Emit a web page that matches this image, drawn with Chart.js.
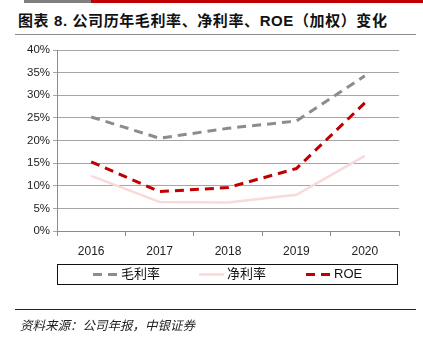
<!DOCTYPE html>
<html>
<head>
<meta charset="utf-8">
<script src="https://cdn.jsdelivr.net/npm/chart.js@4.4.1/dist/chart.umd.min.js"></script>
<style>
  html, body { margin: 0; padding: 0; background: #fff; }
  body { width: 423px; height: 339px; position: relative; overflow: hidden;
         font-family: "Liberation Sans", "Noto Sans CJK SC", sans-serif; }
  #barGray { position: absolute; left: 24px; top: 0; width: 67px; height: 3px; background: #7f7f7f; }
  #barRed  { position: absolute; left: 91px; top: 0; width: 332px; height: 3px; background: #c00000; }
  #title { position: absolute; left: 18px; top: 9px; font-size: 15px; font-weight: bold; letter-spacing: 0.6px;
           color: #111; white-space: nowrap; font-family: "Liberation Sans", "Noto Sans CJK SC", sans-serif; }
  #titleRule { position: absolute; left: 15px; top: 34px; width: 401px; height: 1px; background: #8c8c8c; }
  #footRule { position: absolute; left: 15px; top: 309px; width: 401px; height: 1px; background: #222; }
  #foot { position: absolute; left: 20px; top: 315px; font-size: 12.5px; font-style: italic; color: #222;
          white-space: nowrap; font-family: "Noto Sans CJK SC", sans-serif; }
  #wrap { position: absolute; left: 0; top: 0; width: 423px; height: 339px; }
</style>
</head>
<body>
<div id="barGray"></div><div id="barRed"></div>
<div id="title">图表 8. 公司历年毛利率、净利率、ROE（加权）变化</div>
<div id="titleRule"></div>
<div id="wrap"><canvas id="c" width="423" height="339"></canvas></div>
<div id="footRule"></div>
<div id="foot">资料来源：公司年报，中银证券</div>
<script>
// Years and rates (%)
const years = ['2016', '2017', '2018', '2019', '2020'];
const grossMargin = [25.2, 20.5, 22.7, 24.3, 34.3];
const netMargin = [12.2, 6.4, 6.3, 8.0, 16.6];
const roe = [15.3, 8.7, 9.6, 13.8, 28.3];
const yTicks = [0, 5, 10, 15, 20, 25, 30, 35, 40];

// Boxed legend drawn under the plot, one slot per series
const boxedLegend = {
  id: 'boxedLegend',
  afterDraw(chart) {
    const ctx = chart.ctx;
    const area = chart.chartArea;
    const top = 264, bottom = 284, left = area.left, right = 397;
    ctx.save();
    ctx.strokeStyle = '#111';
    ctx.lineWidth = 1;
    ctx.strokeRect(left + 0.5, top + 0.5, right - left, bottom - top);
    const starts = [93, 199, 306];
    const cy = (top + bottom) / 2 + 0.5;
    chart.data.datasets.forEach((ds, i) => {
      const x0 = starts[i];
      ctx.beginPath();
      ctx.strokeStyle = ds.borderColor;
      ctx.lineWidth = ds.borderWidth;
      ctx.lineCap = 'butt';
      ctx.setLineDash(ds.borderDash || []);
      ctx.moveTo(x0, cy);
      ctx.lineTo(x0 + 25, cy);
      ctx.stroke();
      ctx.setLineDash([]);
      ctx.fillStyle = '#111';
      ctx.font = '13px "Liberation Sans", "Noto Sans CJK SC", sans-serif';
      ctx.textBaseline = 'middle';
      ctx.textAlign = 'left';
      ctx.fillText(ds.label, x0 + 28, cy);
    });
    ctx.restore();
  }
};

new Chart(document.getElementById('c'), {
  type: 'line',
  data: {
    labels: years,
    datasets: [
      { label: '毛利率', data: grossMargin, borderColor: '#8c8c8c', borderWidth: 3,
        borderDash: [9, 6], pointRadius: 0, tension: 0, fill: false },
      { label: '净利率', data: netMargin, borderColor: '#f8dada', borderWidth: 2.5,
        pointRadius: 0, tension: 0, fill: false },
      { label: 'ROE', data: roe, borderColor: '#c00000', borderWidth: 3,
        borderDash: [9, 6], pointRadius: 0, tension: 0, fill: false }
    ]
  },
  options: {
    responsive: false,
    animation: false,
    devicePixelRatio: 1,
    layout: { padding: { top: 50, right: 24, bottom: 75, left: 0 } },
    plugins: { legend: { display: false }, tooltip: { enabled: false } },
    scales: {
      x: {
        offset: true,
        afterFit(s) { s.height = 33; },
        grid: { offset: true, drawOnChartArea: false, drawTicks: true, tickLength: 5, color: '#8c8c8c' },
        border: { color: '#8c8c8c' },
        ticks: { color: '#222', font: { size: 12, family: '"Liberation Sans", sans-serif' }, padding: 8 }
      },
      y: {
        min: 0, max: 40,
        afterFit(s) { s.width = 57; },
        afterBuildTicks(s) { s.ticks = yTicks.map(v => ({ value: v })); },
        grid: { color: '#a6a6a6', tickLength: 4, lineWidth: 1 },
        border: { color: '#8c8c8c' },
        ticks: { color: '#222', font: { size: 11.5, family: '"Liberation Sans", sans-serif' }, padding: 3,
                 callback: v => v + '%' }
      }
    }
  },
  plugins: [boxedLegend]
});
</script>
</body>
</html>
